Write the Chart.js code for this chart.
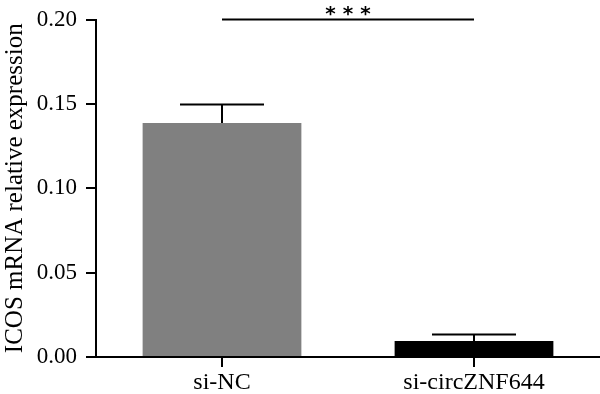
<!DOCTYPE html>
<html lang="en">
<head>
<meta charset="UTF-8">
<title>ICOS mRNA relative expression</title>
<script src="https://cdn.jsdelivr.net/npm/chart.js"></script>
<style>
  html, body { margin: 0; padding: 0; background: #fff; }
  #wrap { width: 600px; height: 394px; }
</style>
</head>
<body>
<div id="wrap"><canvas id="chart"></canvas></div>
<script>
const groups = ['si-NC', 'si-circZNF644'];
const means = [0.1386, 0.0095];
const errors = [0.0110, 0.0038];
const barColors = ['#808080', '#000000'];
const yTicks = [0, 0.05, 0.10, 0.15, 0.20];
const sigLabel = '* * *';
const sigLevel = 0.20;

const serif = '"Liberation Serif", "DejaVu Serif", serif';

// error bars + significance bracket
const extras = {
  id: 'extras',
  afterDatasetsDraw(chart) {
    const { ctx, scales: { x, y } } = chart;
    ctx.save();
    ctx.strokeStyle = '#000';
    ctx.lineWidth = 2;
    means.forEach((m, i) => {
      const cx = x.getPixelForValue(i);
      const yTop = y.getPixelForValue(m + errors[i]);
      const yBar = y.getPixelForValue(m);
      ctx.beginPath();
      ctx.moveTo(cx, yBar);
      ctx.lineTo(cx, yTop);
      ctx.moveTo(cx - 42, yTop);
      ctx.lineTo(cx + 42, yTop);
      ctx.stroke();
    });
    const ys = y.getPixelForValue(sigLevel);
    const x0 = x.getPixelForValue(0), x1 = x.getPixelForValue(1);
    ctx.beginPath();
    ctx.moveTo(x0, ys);
    ctx.lineTo(x1, ys);
    ctx.stroke();
    ctx.fillStyle = '#000';
    ctx.font = 'bold 20px "DejaVu Sans", sans-serif';
    ctx.textAlign = 'center';
    ctx.textBaseline = 'middle';
    ctx.fillText(sigLabel, (x0 + x1) / 2, ys - 5);
    ctx.restore();
  }
};

new Chart(document.getElementById('chart'), {
  type: 'bar',
  data: {
    labels: groups,
    datasets: [{
      data: means,
      backgroundColor: barColors,
      borderWidth: 0,
      barPercentage: 0.63,
      categoryPercentage: 1.0
    }]
  },
  options: {
    responsive: true,
    maintainAspectRatio: false,
    animation: false,
    layout: { padding: { top: 19.5, right: 0, left: 0, bottom: 0 } },
    plugins: { legend: { display: false }, tooltip: { enabled: false } },
    scales: {
      x: {
        grid: { offset: false, drawOnChartArea: false, drawTicks: true, tickLength: 10, color: '#000', lineWidth: 2 },
        border: { display: true, color: '#000', width: 2 },
        ticks: { color: '#000', font: { family: serif, size: 24 }, padding: 1 },
        afterFit(s) { s.height = 37; }
      },
      y: {
        min: 0,
        max: 0.20,
        afterBuildTicks(s) { s.ticks = yTicks.map(v => ({ value: v })); },
        grid: { drawOnChartArea: false, drawTicks: true, tickLength: 10, color: '#000', lineWidth: 2 },
        border: { display: true, color: '#000', width: 2 },
        ticks: { color: '#000', font: { family: serif, size: 23 }, padding: 9,
          callback: v => v.toFixed(2) },
        title: { display: true, text: 'ICOS mRNA relative expression', color: '#000',
          font: { family: serif, size: 25 }, padding: { top: 0, bottom: 0 } },
        afterFit(s) { s.width = 96; s.paddingTop = 0; }
      }
    }
  },
  plugins: [extras]
});
</script>
</body>
</html>
